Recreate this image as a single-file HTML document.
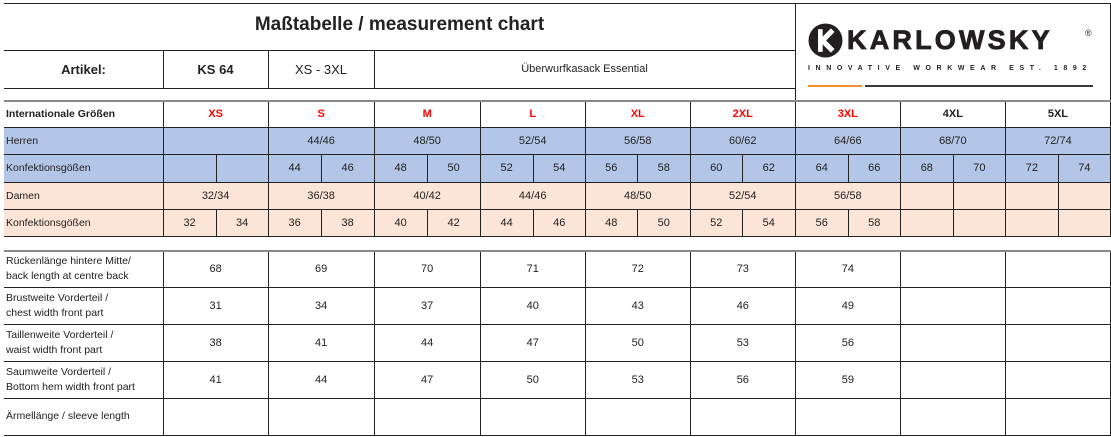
<!DOCTYPE html>
<html><head><meta charset="utf-8"><style>
*{margin:0;padding:0;box-sizing:border-box}
body{width:1111px;height:437px;background:#fff;position:relative;overflow:hidden;font-family:"Liberation Sans",sans-serif;color:#222}
.a{position:absolute}
table{position:absolute;left:4px;border-collapse:collapse;table-layout:fixed;font-size:11px}
td{border:1px solid #222;text-align:center;vertical-align:middle;padding:0;white-space:nowrap;overflow:hidden}
td.l{text-align:left;padding-left:2px;border-left:none;font-size:10.5px}
.b{background:#b4c6e7}.p{background:#fce4d6}
.r{color:#f00;font-weight:bold}.k{font-weight:bold}
#g2 td.l{font-size:10.5px;line-height:15px;white-space:normal}
</style></head><body>
<div class="a" style="left:4px;top:3px;width:1107px;height:1px;background:#222"></div>
<div class="a" style="left:4px;top:50px;width:791px;height:1px;background:#222"></div>
<div class="a" style="left:4px;top:88px;width:791px;height:1px;background:#222"></div>
<div class="a" style="left:795px;top:3px;width:1px;height:97px;background:#222"></div>
<div class="a" style="left:1110px;top:3px;width:1px;height:97px;background:#222"></div>
<div class="a" style="left:163px;top:50px;width:1px;height:38px;background:#222"></div>
<div class="a" style="left:268px;top:50px;width:1px;height:38px;background:#222"></div>
<div class="a" style="left:374px;top:50px;width:1px;height:38px;background:#222"></div>
<div class="a" style="left:4px;top:14px;width:791px;text-align:center;font-size:19px;font-weight:bold;color:#222">Maßtabelle / measurement chart</div>
<div class="a" style="left:4px;top:62px;width:159px;text-align:center;font-size:13px;font-weight:bold">Artikel:</div>
<div class="a" style="left:163px;top:62px;width:105px;text-align:center;font-size:13px;font-weight:bold">KS 64</div>
<div class="a" style="left:268px;top:62px;width:106px;text-align:center;font-size:13px">XS - 3XL</div>
<div class="a" style="left:374px;top:63px;width:421px;text-align:center;font-size:11px">Überwurfkasack Essential</div>
<svg class="a" style="left:808px;top:23px" width="35" height="35" viewBox="0 0 34 34"><circle cx="17" cy="17" r="16.5" fill="#231f20"/><path d="M12 6v22" stroke="#fff" stroke-width="4.5"/><path d="M24 7l-10 10 10 10" stroke="#fff" stroke-width="5" fill="none"/></svg>
<div class="a" style="left:847px;top:25px;font-size:27px;font-weight:900;letter-spacing:3.2px;color:#231f20;-webkit-text-stroke:0.8px #231f20">KARLOWSKY</div>
<div class="a" style="left:1085px;top:28px;font-size:9px;color:#231f20">®</div>
<div class="a" style="left:808px;top:65px;font-size:7px;font-weight:bold;letter-spacing:5.6px;color:#231f20">INNOVATIVE WORKWEAR EST. 1892</div>
<div class="a" style="left:808px;top:85px;width:54px;height:2px;background:#f39232"></div>
<div class="a" style="left:865px;top:85px;width:228px;height:2px;background:#3a3a3a"></div>

<table id="g1" style="top:100px;width:1107px;border-top:2px solid #888">
<colgroup><col style="width:159px"><col style="width:53px"><col style="width:52px"><col style="width:53px"><col style="width:53px"><col style="width:53px"><col style="width:53px"><col style="width:53px"><col style="width:52px"><col style="width:52px"><col style="width:53px"><col style="width:52px"><col style="width:53px"><col style="width:53px"><col style="width:52px"><col style="width:53px"><col style="width:52px"><col style="width:53px"><col style="width:52px"></colgroup>
<tr style="height:26px"><td class="l k">Internationale Größen</td><td colspan="2" class="r">XS</td><td colspan="2" class="r">S</td><td colspan="2" class="r">M</td><td colspan="2" class="r">L</td><td colspan="2" class="r">XL</td><td colspan="2" class="r">2XL</td><td colspan="2" class="r">3XL</td><td colspan="2" class="k">4XL</td><td colspan="2" class="k">5XL</td></tr>
<tr style="height:27px" class="b"><td class="l">Herren</td><td colspan="2"></td><td colspan="2">44/46</td><td colspan="2">48/50</td><td colspan="2">52/54</td><td colspan="2">56/58</td><td colspan="2">60/62</td><td colspan="2">64/66</td><td colspan="2">68/70</td><td colspan="2">72/74</td></tr>
<tr style="height:28px" class="b"><td class="l">Konfektionsgößen</td><td></td><td></td><td>44</td><td>46</td><td>48</td><td>50</td><td>52</td><td>54</td><td>56</td><td>58</td><td>60</td><td>62</td><td>64</td><td>66</td><td>68</td><td>70</td><td>72</td><td>74</td></tr>
<tr style="height:27px" class="p"><td class="l">Damen</td><td colspan="2">32/34</td><td colspan="2">36/38</td><td colspan="2">40/42</td><td colspan="2">44/46</td><td colspan="2">48/50</td><td colspan="2">52/54</td><td colspan="2">56/58</td><td></td><td></td><td></td><td></td></tr>
<tr style="height:27px" class="p"><td class="l">Konfektionsgößen</td><td>32</td><td>34</td><td>36</td><td>38</td><td>40</td><td>42</td><td>44</td><td>46</td><td>48</td><td>50</td><td>52</td><td>54</td><td>56</td><td>58</td><td></td><td></td><td></td><td></td></tr>
</table>

<table id="g2" style="top:250px;width:1107px;border-top:2px solid #888">
<colgroup><col style="width:159px"><col style="width:105px"><col style="width:106px"><col style="width:106px"><col style="width:105px"><col style="width:105px"><col style="width:105px"><col style="width:105px"><col style="width:105px"><col style="width:105px"></colgroup>
<tr style="height:36px"><td class="l">Rückenlänge hintere Mitte/<br>back length at centre back</td><td>68</td><td>69</td><td>70</td><td>71</td><td>72</td><td>73</td><td>74</td><td></td><td></td></tr>
<tr style="height:37px"><td class="l">Brustweite Vorderteil /<br>chest width front part</td><td>31</td><td>34</td><td>37</td><td>40</td><td>43</td><td>46</td><td>49</td><td></td><td></td></tr>
<tr style="height:37px"><td class="l">Taillenweite Vorderteil /<br>waist width front part</td><td>38</td><td>41</td><td>44</td><td>47</td><td>50</td><td>53</td><td>56</td><td></td><td></td></tr>
<tr style="height:37px"><td class="l">Saumweite Vorderteil /<br>Bottom hem width front part</td><td>41</td><td>44</td><td>47</td><td>50</td><td>53</td><td>56</td><td>59</td><td></td><td></td></tr>
<tr style="height:37px"><td class="l">Ärmellänge / sleeve length</td><td></td><td></td><td></td><td></td><td></td><td></td><td></td><td></td><td></td></tr>
</table>
</body></html>
